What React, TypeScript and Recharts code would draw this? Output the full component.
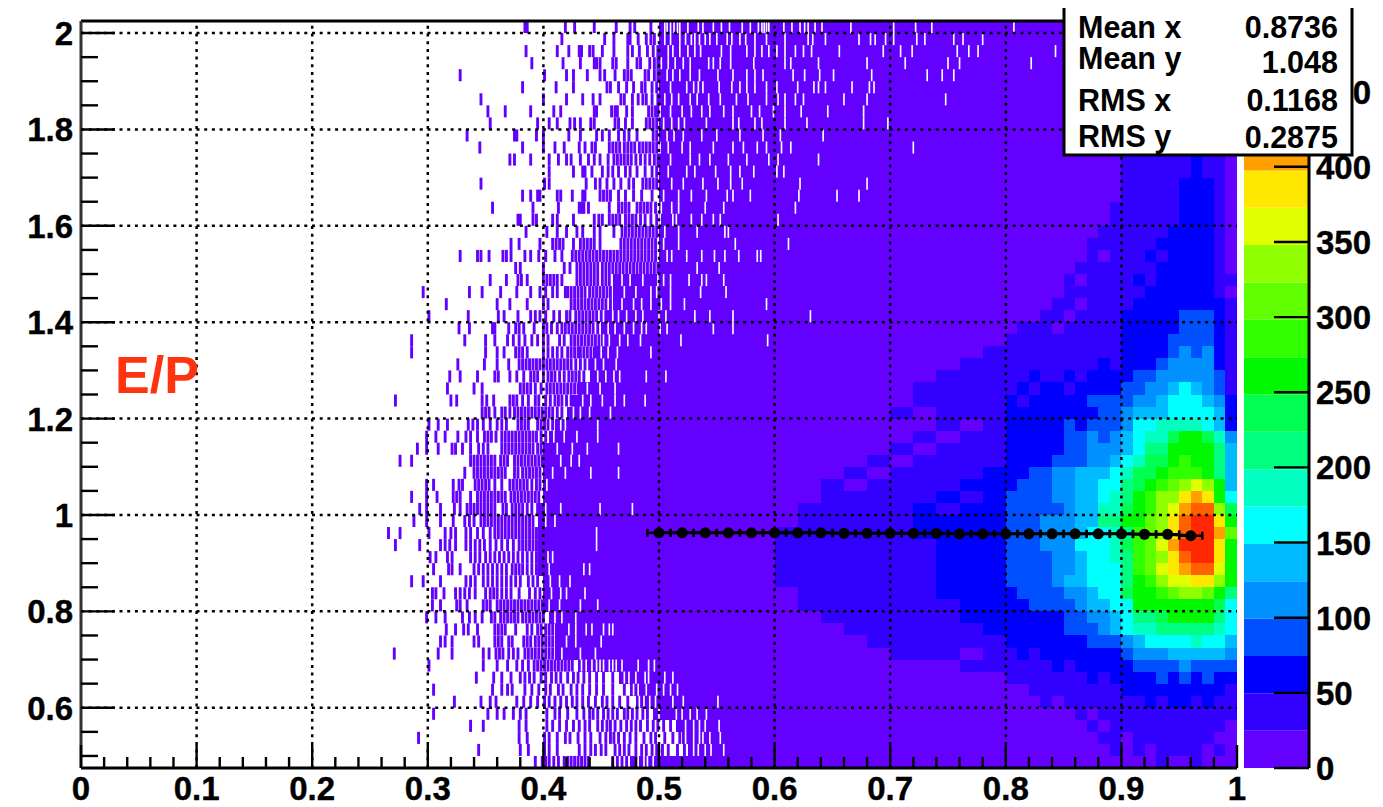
import { ScatterChart, Scatter, XAxis, YAxis, ReferenceLine, ErrorBar, BarChart, Bar } from 'recharts'

const WIDTH = 1383
const HEIGHT = 807
const PLOT_LEFT = 81
const PLOT_RIGHT = 1237
const PLOT_TOP = 21
const PLOT_BOTTOM = 768
const PLOT_W = PLOT_RIGHT - PLOT_LEFT
const ROW_H = (PLOT_BOTTOM - PLOT_TOP) / 62
const FONT = '"Liberation Sans", Arial, sans-serif'

const xTicks = [0, 0.02, 0.04, 0.06, 0.08, 0.1, 0.12, 0.14, 0.16, 0.18, 0.2, 0.22, 0.24, 0.26, 0.28, 0.3, 0.32, 0.34, 0.36, 0.38, 0.4, 0.42, 0.44, 0.46, 0.48, 0.5, 0.52, 0.54, 0.56, 0.58, 0.6, 0.62, 0.64, 0.66, 0.68, 0.7, 0.72, 0.74, 0.76, 0.78, 0.8, 0.82, 0.84, 0.86, 0.88, 0.9, 0.92, 0.94, 0.96, 0.98, 1]
const yTicks = [0.5, 0.55, 0.6, 0.65, 0.7, 0.75, 0.8, 0.85, 0.9, 0.95, 1, 1.05, 1.1, 1.15, 1.2, 1.25, 1.3, 1.35, 1.4, 1.45, 1.5, 1.55, 1.6, 1.65, 1.7, 1.75, 1.8, 1.85, 1.9, 1.95, 2]
const xGrid = [0.1, 0.2, 0.3, 0.4, 0.5, 0.6, 0.7, 0.8, 0.9]
const yGrid = [0.6, 0.8, 1, 1.2, 1.4, 1.6, 1.8, 2]
const zTicks = [0, 50, 100, 150, 200, 250, 300, 350, 400, 450]

// colour palette, one colour per 24.85 counts
const bandColors = ['#6400ff', '#3200ff', '#0000ff', '#0050ff', '#0090ff', '#00bbff', '#00ffff', '#00ffc0', '#00ff80', '#00ff50', '#00f800', '#30ff00', '#60ff00', '#90ff00', '#e0ff00', '#ffe800', '#ffa000', '#ff6000', '#ff2800', '#ff0000']
const BAND = 24.85

// profile points
const profileX = [0.5, 0.52, 0.54, 0.56, 0.58, 0.6, 0.62, 0.64, 0.66, 0.68, 0.7, 0.72, 0.74, 0.76, 0.78, 0.8, 0.82, 0.84, 0.86, 0.88, 0.9, 0.92, 0.94, 0.96]
const profileY = [0.963, 0.963, 0.963, 0.963, 0.963, 0.963, 0.963, 0.963, 0.962, 0.962, 0.962, 0.962, 0.962, 0.961, 0.961, 0.961, 0.961, 0.961, 0.961, 0.961, 0.961, 0.96, 0.96, 0.957]

// column edges of the coloured part of the histogram
const densityEdges = [0.6, 0.62, 0.64, 0.66, 0.68, 0.7, 0.72, 0.74, 0.76, 0.78, 0.8, 0.81, 0.82, 0.83, 0.84, 0.85, 0.86, 0.87, 0.88, 0.89, 0.9, 0.91, 0.92, 0.93, 0.94, 0.95, 0.96, 0.97, 0.98, 0.99, 1]

// counts per row, top row (y 2.025) first
const densityRows = [
  [12,12,12,12,12,12,12,12,12,12, 12,12,12,12,12,12,12,12,12,12, 12,12,12,12,12,12,12,12,12,12],
  [12,12,12,12,12,12,12,12,12,12, 12,12,12,12,12,12,12,12,12,12, 12,12,12,12,12,12,12,12,12,12],
  [12,12,12,12,12,12,12,12,12,12, 12,12,12,12,12,12,12,12,12,12, 12,12,12,12,12,12,12,12,12,12],
  [12,12,12,12,12,12,12,12,12,12, 12,12,12,12,12,12,12,12,12,12, 12,12,12,12,12,12,12,12,12,12],
  [12,12,12,12,12,12,12,12,12,12, 12,12,12,12,12,12,12,12,12,12, 12,12,12,12,12,12,12,12,12,12],
  [12,12,12,12,12,12,12,12,12,12, 12,12,12,12,12,12,12,12,12,12, 12,12,12,12,12,12,12,12,12,12],
  [12,12,12,12,12,12,12,12,12,12, 12,12,12,12,12,12,12,12,12,12, 12,12,12,12,12,12,12,12,12,12],
  [12,12,12,12,12,12,12,12,12,12, 12,12,12,12,12,12,12,12,12,12, 12,12,12,12,12,12,12,12,12,12],
  [12,12,12,12,12,12,12,12,12,12, 12,12,12,12,12,12,12,12,12,12, 37,37,37,37,37,37,37,37,12,12],
  [12,12,12,12,12,12,12,12,12,12, 12,12,12,12,12,12,12,12,12,12, 37,37,37,37,37,37,37,37,37,12],
  [12,12,12,12,12,12,12,12,12,12, 12,12,12,12,12,12,12,12,12,12, 37,37,37,37,37,37,37,37,37,12],
  [12,12,12,12,12,12,12,12,12,12, 12,12,12,12,12,12,12,12,12,12, 37,37,37,37,37,37,62,37,37,12],
  [12,12,12,12,12,12,12,12,12,12, 12,12,12,12,12,12,12,12,12,12, 37,37,37,37,37,37,62,37,37,12],
  [12,12,12,12,12,12,12,12,12,12, 12,12,12,12,12,12,12,12,12,12, 37,37,37,37,37,62,62,62,37,12],
  [12,12,12,12,12,12,12,12,12,12, 12,12,12,12,12,12,12,12,12,12, 37,37,37,37,37,62,62,62,37,12],
  [12,12,12,12,12,12,12,12,12,12, 12,12,12,12,12,12,12,12,12,37, 37,37,37,37,37,62,62,62,37,12],
  [12,12,12,12,12,12,12,12,12,12, 12,12,12,12,12,12,12,12,12,37, 37,37,37,37,37,62,62,62,37,12],
  [12,12,12,12,12,12,12,12,12,12, 12,12,12,12,12,12,12,12,37,37, 37,37,37,37,62,62,62,62,37,12],
  [12,12,12,12,12,12,12,12,12,12, 12,12,12,12,12,12,12,37,37,37, 37,37,37,62,62,62,62,62,37,12],
  [12,12,12,12,12,12,12,12,12,12, 12,12,12,12,12,12,12,37,12,37, 37,37,62,37,62,62,62,62,37,12],
  [12,12,12,12,12,12,12,12,12,12, 12,12,12,12,12,12,37,37,37,37, 37,37,37,62,62,62,62,62,37,12],
  [12,12,12,12,12,12,12,12,12,12, 12,12,12,12,12,37,12,37,37,37, 37,62,37,62,62,62,62,62,37,37],
  [12,12,12,12,12,12,12,12,12,12, 12,12,12,12,12,37,37,37,37,37, 37,37,62,62,62,62,62,62,37,12],
  [12,12,12,12,12,12,12,12,12,12, 12,12,12,12,37,37,12,37,37,37, 37,62,62,62,62,62,62,62,62,37],
  [12,12,12,12,12,12,12,12,12,12, 12,12,12,37,37,12,37,37,37,37, 62,62,62,62,62,87,87,87,62,37],
  [12,12,12,12,12,12,12,12,12,12, 12,37,37,37,12,37,37,37,37,37, 62,62,62,62,62,87,87,87,62,37],
  [12,12,12,12,12,12,12,12,12,12, 37,37,37,37,37,37,37,37,37,37, 62,62,62,62,87,87,87,87,62,37],
  [12,12,12,12,12,12,12,12,12,37, 37,37,37,37,37,37,37,37,37,37, 62,62,62,62,87,112,87,112,62,37],
  [12,12,12,12,12,12,12,12,37,37, 37,37,37,37,37,37,37,37,62,37, 62,62,62,87,112,112,112,112,62,37],
  [12,12,12,12,12,12,12,37,37,37, 37,37,62,37,37,62,37,62,62,62, 62,87,87,112,112,112,112,112,87,37],
  [12,12,12,12,12,12,37,37,37,37, 37,62,37,62,62,37,62,62,62,62, 87,87,112,112,137,162,137,112,87,37],
  [12,12,12,12,12,12,37,37,37,37, 62,37,62,62,62,62,62,87,87,87, 87,112,112,137,162,162,162,137,112,62],
  [12,12,12,12,12,37,12,37,37,37, 62,62,62,62,62,62,62,62,87,87, 112,137,137,137,162,162,162,162,137,62],
  [12,12,12,12,12,12,12,37,12,37, 62,62,62,62,62,87,62,87,87,87, 112,162,162,187,187,187,187,162,137,62],
  [12,12,12,12,12,12,37,12,37,37, 62,62,62,62,62,87,87,112,87,112, 137,162,187,187,237,262,262,237,187,112],
  [12,12,12,12,12,37,12,37,37,37, 62,62,62,62,62,87,87,112,112,112, 137,162,212,212,262,262,262,262,212,137],
  [12,12,12,12,37,12,37,37,37,37, 62,62,62,62,87,87,87,112,112,137, 162,187,237,237,262,287,262,262,212,137],
  [12,12,12,37,12,37,37,37,37,62, 62,62,87,87,112,112,137,137,137,162, 187,237,237,262,287,287,287,262,212,137],
  [12,12,37,12,37,37,37,37,62,62, 62,87,87,87,112,112,137,137,162,162, 212,237,262,287,312,337,362,337,262,137],
  [12,12,37,37,37,37,37,62,37,62, 87,87,87,87,112,112,137,137,162,187, 212,262,287,337,337,387,412,387,262,162],
  [12,37,37,37,37,37,62,37,62,62, 87,87,87,87,87,112,137,137,187,187, 237,262,287,337,362,412,437,437,337,237],
  [12,37,37,37,37,37,62,62,62,62, 87,87,87,112,112,112,137,137,212,212, 262,262,312,337,387,437,462,462,387,262],
  [37,37,37,37,37,37,62,62,62,62, 87,87,87,112,112,112,137,162,162,187, 212,287,312,337,387,437,462,462,412,312],
  [37,37,37,37,37,37,37,62,62,62, 87,87,87,112,112,112,162,162,162,187, 237,287,312,362,412,462,462,462,387,262],
  [37,37,37,37,37,37,37,62,62,62, 87,87,87,87,112,112,137,162,162,187, 212,287,312,337,387,437,462,462,387,262],
  [37,37,37,37,37,37,37,62,62,62, 87,87,87,87,112,112,137,162,162,162, 212,287,312,362,387,412,437,437,362,262],
  [37,37,37,37,37,37,37,62,62,62, 87,87,87,87,112,137,137,162,162,162, 212,262,287,337,362,362,387,387,337,262],
  [12,37,37,37,37,37,37,62,62,62, 62,87,87,87,87,112,112,137,162,162, 237,262,262,287,312,337,337,312,262,212],
  [12,37,37,37,37,37,37,37,62,62, 62,62,87,87,87,87,112,137,137,162, 162,262,262,262,262,262,262,262,237,162],
  [12,12,37,37,37,37,37,37,62,62, 62,62,62,62,62,87,87,112,112,137, 162,212,212,237,262,262,262,262,212,162],
  [12,12,12,37,37,37,37,37,37,62, 62,62,62,62,62,87,87,87,112,137, 162,187,187,212,212,212,212,212,187,162],
  [12,12,12,12,37,37,37,37,37,37, 62,62,62,62,62,62,62,87,87,87, 112,137,162,162,162,162,187,162,162,137],
  [12,12,12,12,12,37,37,37,12,37, 37,62,37,62,62,62,62,62,62,62, 87,112,112,112,137,137,137,137,137,112],
  [12,12,12,12,12,12,12,12,37,37, 37,37,37,37,62,37,62,62,62,62, 62,87,87,87,87,112,87,87,87,87],
  [12,12,12,12,12,12,12,12,12,12, 37,37,37,37,37,37,37,62,37,62, 62,62,62,87,62,87,62,87,62,62],
  [12,12,12,12,12,12,12,12,12,12, 12,12,37,37,37,37,37,37,37,37, 62,62,62,62,62,62,62,62,62,37],
  [12,12,12,12,12,12,12,12,12,12, 12,12,12,37,12,37,37,37,37,37, 37,37,62,37,62,62,37,62,37,37],
  [12,12,12,12,12,12,12,12,12,12, 12,12,12,12,12,12,37,12,37,37, 37,37,37,37,37,37,37,37,37,37],
  [12,12,12,12,12,12,12,12,12,12, 12,12,12,12,12,12,12,37,12,37, 37,37,37,37,37,37,37,37,37,12],
  [12,12,12,12,12,12,12,12,12,12, 12,12,12,12,12,12,12,12,37,37, 12,37,37,37,37,37,37,37,12,12],
  [12,12,12,12,12,12,12,12,12,12, 12,12,12,12,12,12,12,12,12,37, 12,37,12,37,37,37,37,12,37,12],
  [12,12,12,12,12,12,12,12,12,12, 12,12,12,12,12,12,12,12,12,12, 12,12,12,37,12,12,37,12,12,12],
]

// x (thousandths) where each row turns into solid low-count colour
const solidFrom = [500, 500, 500, 500, 500, 500, 500, 500, 500, 500, 500, 500, 500, 500, 500, 500, 500, 500, 500, 500, 500, 460, 460, 460, 455, 450, 450, 445, 440, 440, 430, 425, 420, 410, 405, 400, 400, 400, 400, 400, 395, 395, 395, 395, 395, 395, 400, 400, 400, 405, 410, 410, 410, 430, 465, 475, 480, 495, 515, 520, 525, 475]

// isolated filled bins left of solidFrom, x in thousandths, one list per row
const dashRows = [
  [384,386,419,427,444,463,475,479,493],
  [416,453,461,473,475,482,489,493,496],
  [385,412,422,431,433,440,443,451,461,473,477,483,490,495,499],
  [390,417,432,444,446,449,460,463,473,481,484,492,496,499],
  [328,401,420,426,438,449,453,462,470,473,476,488,491,496,499],
  [382,411,426,455,458,465,472,478,485,488,494,498],
  [346,400,420,434,443,449,467,470,477,482,486,489,494,499],
  [352,367,389,409,415,444,446,459,462,464,472,477,491,494,497,499],
  [354,395,405,412,423,427,432,441,444,462,465,471,477,489,492,495,498],
  [334,375,377,394,400,422,432,446,451,457,465,470,474,481,495,498],
  [345,382,400,410,418,431,436,442,445,457,460,463,466,470,473,476,479,483,486,489,492,495,498],
  [371,375,389,405,413,420,424,432,439,444,449,456,461,464,467,470,473,476,480,484,488,492,496,499],
  [405,426,434,436,442,451,456,460,465,471,475,481,488,494,498],
  [346,401,405,437,445,449,455,461,467,474,478,486,489,492,495,498],
  [382,389,395,397,412,415,425,434,436,449,452,455,458,465,471,478,485,494],
  [356,391,413,431,433,435,439,457,465,468,471,474,481,484,487,490,493,497],
  [378,380,391,394,408,412,426,444,448,451,457,460,463,466,471,474,477,480,484,488,493,498],
  [385,403,412,420,429,434,444,449,461,468,471,474,477,480,483,486,489,492,495,498],
  [372,379,397,408,411,414,417,426,432,435,438,441,444,449,467,470,473,476,479,482,485,488,491,494,497],
  [328,343,346,353,365,368,372,384,389,396,402,410,416,425,428,431,434,437,440,443,446,449,452,455,458,461,464,467,470,473,476,479,482,485,488,491,494,497],
  [376,380,400,418,423,429,432,435,438,441,444,447,451,454,457,460,463,466,469,472,475,478,481,484,487,490,493,496,499],
  [354,368,378,381,386,400,403,406,409,412,416,429,432,435,438,441,444,447,451,454,457],
  [296,336,347,363,377,389,397,402,408,412,419,421,424,427,430,433,436,440,443,446,449,452,455,458],
  [316,360,371,386,400,404,424,427,430,433,436,439,442,445,448,451,454,458],
  [301,335,361,366,378,389,393,397,402,409,414,420,423,428,431,434,437,440,443,446,450,454],
  [327,336,356,358,370,376,379,383,392,400,403,407,412,416,419,422,425,428,431,434,437,440,443,447],
  [286,332,350,358,369,374,379,384,390,395,400,404,414,418,424,427,430,433,436,439,442,445,448],
  [286,350,360,366,376,379,382,386,400,404,408,412,416,421,424,427,430,432,435,438,441,444],
  [326,349,360,370,379,382,385,388,391,394,397,400,403,406,409,412,415,418,421,424,428,432,436,440],
  [319,328,343,358,361,371,377,383,389,392,395,400,404,407,410,414,418,422,425,428,431,435],
  [317,340,347,380,383,386,389,393,398,403,406,409,412,415,418,421,424,427,430],
  [272,320,325,347,351,357,371,374,377,382,387,393,396,402,406,410,413,416,420,424],
  [347,350,353,358,364,367,371,375,378,381,384,387,390,393,396,399,402,405,408,412,416],
  [301,309,317,335,339,343,348,354,360,364,368,378,381,384,387,395,398,401,404,408],
  [299,307,315,326,333,337,343,349,352,355,359,364,367,370,373,376,379,382,385,388,391,394,398,402],
  [291,299,309,321,324,330,337,344,348,352,364,367,370,373,376,379,382,385,388,391,395,398],
  [276,286,337,340,343,346,349,352,355,358,363,366,369,375,378,381,384,387,390,393,396,399],
  [332,340,343,346,349,352,355,358,361,364,367,375,378,382,385,388,391,394,397],
  [299,305,322,327,330,341,344,347,350,353,358,364,371,374,377,380,383,386,390,394,397],
  [286,299,308,322,325,328,337,343,346,349,352,355,358,361,364,367,372,375,378,381,384,387,390,393,396],
  [293,299,311,323,328,334,337,340,343,346,349,352,355,358,365,368,373,376,379,382,386,390,395],
  [288,299,311,322,332,336,340,346,349,352,355,358,361,364,367,370,373,376,379,382,385,388,391],
  [266,276,301,315,320,324,333,337,343,348,354,358,361,364,367,370,373,376,379,382,385,388,391,394],
  [272,293,311,315,319,324,333,337,341,345,349,354,359,364,369,374,379,382,385,388,391,394],
  [302,307,317,321,337,341,345,350,354,358,362,366,370,374,378,382,386,390,394],
  [305,318,321,328,340,344,348,352,356,360,364,368,373,376,379,382,386,390,394],
  [286,296,311,333,337,341,348,352,356,360,364,368,372,376,380,387,391,395],
  [304,307,314,324,328,332,336,341,350,354,357,360,364,368,372,379,388,393,397],
  [304,311,325,328,334,348,351,354,360,363,366,369,372,375,378,381,384,387,390,393,396,399],
  [299,307,315,330,336,341,347,355,358,363,366,369,372,375,378,382,385,388,391,394,397,400],
  [316,324,331,335,343,358,361,364,367,376,386,390,395,398,402,405,408],
  [311,315,321,340,344,358,361,364,370,373,383,386,389,393,396,399,402,405,408],
  [271,309,321,348,353,359,362,365,370,374,378,384,387,390,393,396,399,402,405,408],
  [301,348,360,369,377,382,387,392,395,398,401,404,407,410,413,416,419,422,425],
  [342,357,364,372,380,384,388,392,398,402,407,411,415,421,426,430,435,440,446,452,460],
  [305,356,364,369,373,384,390,396,402,406,413,417,424,429,434,440,446,452,460,470],
  [323,346,354,359,377,383,389,395,401,405,410,415,420,425,429,434,439,445,451,455,460,466,473],
  [305,352,360,366,374,380,385,403,410,414,421,429,435,440,443,447,452,456,460,464,470,473,477,481,486,490],
  [337,348,379,385,403,408,414,420,426,431,436,440,447,451,455,458,462,467,472,476,480,484,490,495,499,504,510],
  [292,379,386,401,405,412,419,423,430,436,441,449,454,458,461,465,470,475,480,487,493,497,505,512,518],
  [344,380,387,401,405,412,431,436,441,445,450,454,462,466,470,474,480,485,489,494,498,503,508,516,522],
  [393,399,402,405,409,413,418,421,424,427,430,433,436,439,460,464,468,472],
]

// empty bins inside the solid part, x in thousandths, one list per row
const gapRows = [
  [505,507,510,513,516,518,525,534,538,547,554,561,572,579,586,589,591,593,595,608,615,622,626,629,635,641,666,703,722,736,807],
  [505,510,518,523,528,531,535,540,544,550,559,563,570,575,583,593,609,629,633,644,673,683,687,696,703,723,730,755,763,780],
  [508,512,518,525,531,536,554,562,576,583,589,595,602,609,618,625,632,656,694,709,719,758,768,776,843],
  [502,508,514,521,527,543,547,553,562,582,609,614,638,680,713,750,760,822],
  [507,512,518,527,535,551,564,576,583,590,616,626,639,651,684,732,745,755],
  [510,524,530,534,538,552,563,570,576,583,593,602,620,634,638,644,667,682,686],
  [505,511,517,527,533,543,553,567,577,593,603,609,618,625,660,680,748],
  [501,510,520,528,537,544,556,564,580,587,599,609,623,646,677],
  [504,511,517,522,541,564,569,583,589,609,628,677,698],
  [507,513,521,537,550,570,590,605,642],
  [501,508,520,527,547,564,573,585,593,606,614,720],
  [510,527,535,544,560,576,595,603,638],
  [508,524,531,549,562,570,582,602,608],
  [511,521,538,551,562,572,622,680],
  [504,517,528,541,559,564,579,621,654,673],
  [502,511,517,540,556,618],
  [501,512,515,528,537,547,553,603],
  [505,517,533,557,560],
  [504,517,566,612],
  [507,511,524,537,548,557,569,585,588],
  [533,552],
  [468,475,486,499,504,510,526,537,541,556],
  [470,480,493,498,510,536,558],
  [468,478,485,493,502,510,522,593],
  [460,465,472,480,486,500,506,531,544,564,631],
  [456,462,470,478,485,489,501,507,547,564],
  [452,457,466,473,484,519,594],
  [450,456,464,493],
  [445,452,463],
  [447,454,461,466,489,506],
  [438,449,462],
  [434,441,451,462,470,488],
  [426,432,440,458],
  [415,419,447],
  [409,418,429,447],
  [412,425,438,465],
  [415,424,431],
  [408,419,441,465],
  [403],
  [],
  [402,415,449,477],
  [402,410],
  [446],
  [446],
  [404,408],
  [405,435,440],
  [406,414,423],
  [407,415,420,436],
  [405,414,432,447],
  [410,416,428],
  [422,428,437,442,452,457,460],
  [420,428,450],
  [416,432,445],
  [433,437,442,446,449,452,457,460,463,468,482,491,496],
  [470,474,480,488,491,505,512],
  [478,482,489,498,504,510,516],
  [483,487,492,497,512,521,551],
  [500,515,520,527,533,541],
  [523,530,535,540,552],
  [523,530,535,538,544,553],
  [530,534,540,545,556],
  [482,487,490,495],
]

const rowY = (row: number) => 2.025 - 0.025 * row - 0.0125

// purple base plus coloured cells
const densityCells = densityRows.flatMap((counts, row) => [
  { x: (solidFrom[row] / 1000 + 0.6) / 2, y: rowY(row), w: 0.6 - solidFrom[row] / 1000, count: 12 },
  ...counts.map((count, col) => ({
    x: (densityEdges[col] + densityEdges[col + 1]) / 2,
    y: rowY(row),
    w: densityEdges[col + 1] - densityEdges[col],
    count,
  })),
])
const dashCells = dashRows.flatMap((list, row) => list.map((v) => ({ x: v / 1000, y: rowY(row), w: 0.0025, count: 12 })))
const gapCells = gapRows.flatMap((list, row) => list.map((v) => ({ x: v / 1000, y: rowY(row), w: 0.0014, count: 0 })))
const profile = profileX.map((x, i) => ({ x, y: profileY[i], ex: 0.01 }))

const bandColor = (count: number) => (count <= 0 ? '#ffffff' : bandColors[Math.min(19, Math.floor(count / BAND))])

function HeatCell(props: any) {
  const { cx, cy, payload } = props
  const w = payload.w * PLOT_W
  return <rect x={cx - w / 2} y={cy - ROW_H / 2} width={w + 0.4} height={ROW_H + 0.4} fill={bandColor(payload.count)} shapeRendering="crispEdges" />
}

// single bins are left antialiased so they blur a little like the scan
function BinCell(props: any) {
  const { cx, cy, payload } = props
  const w = payload.w * PLOT_W
  return <rect x={cx - w / 2} y={cy - ROW_H / 2} width={w} height={ROW_H} fill={bandColor(payload.count)} />
}

function ProfileDot(props: any) {
  return <circle cx={props.cx} cy={props.cy} r={5.5} fill="#000" />
}

const tickText = { fontFamily: FONT, fontWeight: 'bold', fontSize: 33, fill: '#000', stroke: '#000', strokeWidth: 0.4 }

function XTick({ x, y, payload }: any) {
  const major = Math.round(payload.value * 100) % 10 === 0
  return (
    <g>
      <line x1={x} x2={x} y1={y} y2={y - (major ? 23 : 11)} stroke="#000" strokeWidth={2.4} />
      {major && (
        <text x={x} y={y + 32} textAnchor="middle" {...tickText}>
          {String(payload.value)}
        </text>
      )}
    </g>
  )
}

function YTick({ x, y, payload }: any) {
  const major = Math.round(payload.value * 100) % 20 === 0
  return (
    <g>
      <line x1={x} x2={x + (major ? 34 : 17)} y1={y} y2={y} stroke="#000" strokeWidth={2.4} />
      {major && (
        <text x={x - 8} y={y + 12} textAnchor="end" {...tickText}>
          {String(payload.value)}
        </text>
      )}
    </g>
  )
}

function ZTick({ x, y, payload }: any) {
  return (
    <g>
      <line x1={x} x2={x - 35} y1={y} y2={y} stroke="#000" strokeWidth={2.4} />
      <text x={x + 7} y={y + 12} textAnchor="start" {...tickText}>
        {payload.value}
      </text>
    </g>
  )
}

const statLabels = ['Mean x', 'Mean y', 'RMS x', 'RMS y']
const statValues = ['0.8736', '1.048', '0.1168', '0.2875']
const statLabelBase = [38, 69, 111, 147]
const statValueBase = [38, 73, 111, 148]

const zRow = [Object.fromEntries(bandColors.map((_, i) => [`b${i}`, BAND]))]

export default function App() {
  return (
    <div style={{ position: 'absolute', left: 0, top: 0, width: WIDTH, height: HEIGHT, background: '#fff', overflow: 'hidden' }}>
      <div style={{ position: 'absolute', left: 0, top: 0 }}>
        <ScatterChart width={WIDTH} height={HEIGHT} margin={{ top: PLOT_TOP, right: WIDTH - PLOT_RIGHT, bottom: 0, left: 0 }}>
          <Scatter data={densityCells} dataKey="y" shape={HeatCell} isAnimationActive={false} />
          <Scatter data={dashCells} dataKey="y" shape={BinCell} isAnimationActive={false} />
          <Scatter data={gapCells} dataKey="y" shape={BinCell} isAnimationActive={false} />
          {xGrid.map((v) => (
            <ReferenceLine key={`gx${v}`} x={v} stroke="#000" strokeWidth={2.5} strokeDasharray="3 4.7" zIndex={700} />
          ))}
          {yGrid.map((v) => (
            <ReferenceLine key={`gy${v}`} y={v} stroke="#000" strokeWidth={2.5} strokeDasharray="3 4.7" zIndex={700} />
          ))}
          <ReferenceLine y={2.025} stroke="#000" strokeWidth={3} zIndex={700} />
          <XAxis
            type="number"
            dataKey="x"
            domain={[0, 1]}
            ticks={xTicks}
            interval={0}
            height={HEIGHT - PLOT_BOTTOM}
            tickSize={0}
            tickMargin={0}
            tickLine={false}
            tick={XTick}
            axisLine={{ stroke: '#000', strokeWidth: 3 }}
            allowDataOverflow
            zIndex={800}
          />
          <YAxis
            type="number"
            dataKey="y"
            domain={[0.475, 2.025]}
            ticks={yTicks}
            interval={0}
            width={PLOT_LEFT}
            tickSize={0}
            tickMargin={0}
            tickLine={false}
            tick={YTick}
            axisLine={{ stroke: '#333', strokeWidth: 3 }}
            allowDataOverflow
            zIndex={800}
          />
          <Scatter data={profile} dataKey="y" shape={ProfileDot} line={{ stroke: '#000', strokeWidth: 3 }} isAnimationActive={false} zIndex={900}>
            <ErrorBar dataKey="ex" direction="x" width={4} stroke="#000" strokeWidth={2.5} isAnimationActive={false} zIndex={950} />
          </Scatter>
        </ScatterChart>
      </div>

      {/* colour scale */}
      <div style={{ position: 'absolute', left: 1244, top: 0 }}>
        <BarChart width={139} height={HEIGHT} data={zRow} barCategoryGap={0} margin={{ top: PLOT_TOP, right: 0, bottom: HEIGHT - PLOT_BOTTOM, left: 0 }}>
          <XAxis hide />
          <YAxis
            orientation="right"
            type="number"
            domain={[0, BAND * 20]}
            ticks={zTicks}
            interval={0}
            width={74}
            tickSize={0}
            tickMargin={0}
            tickLine={false}
            tick={ZTick}
            axisLine={{ stroke: '#000', strokeWidth: 3 }}
            allowDataOverflow
          />
          {bandColors.map((c, i) => (
            <Bar key={c} dataKey={`b${i}`} stackId="z" fill={c} isAnimationActive={false} />
          ))}
        </BarChart>
      </div>

      {/* statistics box and label */}
      <svg width={WIDTH} height={HEIGHT} style={{ position: 'absolute', left: 0, top: 0 }}>
        <rect x={1064} y={-4} width={288} height={159} fill="#fff" stroke="#000" strokeWidth={3} />
        <rect x={1050} y={-4} width={320} height={12} fill="#fff" />
        {statLabels.map((label, i) => (
          <text key={label} x={1078} y={statLabelBase[i]} fontFamily={FONT} fontWeight="bold" fontSize={30.5} fill="#000">
            {label}
          </text>
        ))}
        {statValues.map((value, i) => (
          <text key={statLabels[i]} x={1338} y={statValueBase[i]} textAnchor="end" fontFamily={FONT} fontWeight="bold" fontSize={30.5} fill="#000">
            {value}
          </text>
        ))}
        <text x={115} y={393} fontFamily={FONT} fontWeight="bold" fontSize={52} fill="#ff3310">
          E/P
        </text>
      </svg>
    </div>
  )
}
